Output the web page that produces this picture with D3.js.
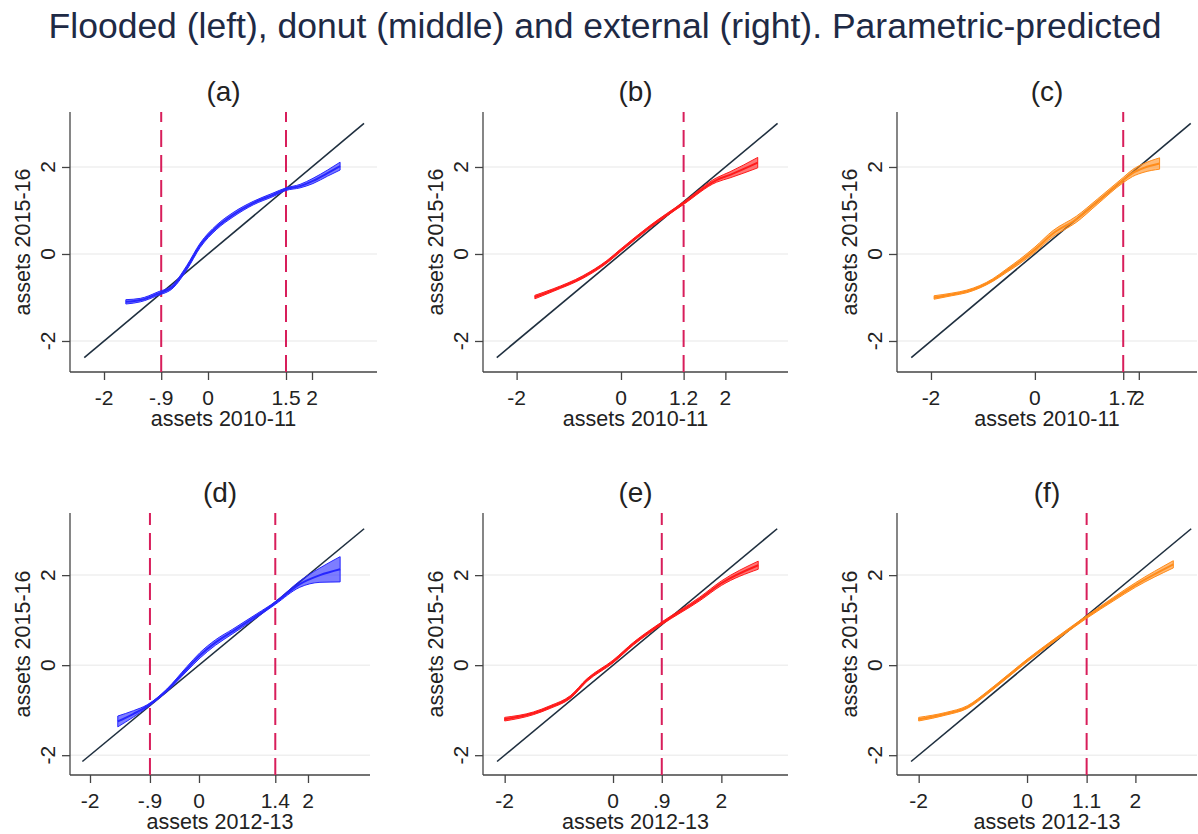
<!DOCTYPE html>
<html>
<head>
<meta charset="utf-8">
<script src="https://cdn.jsdelivr.net/npm/d3@7"></script>
<style>
  body { margin: 0; background: #fff; }
  text { font-family: "Liberation Sans", Arial, sans-serif; }
</style>
</head>
<body>
<div id="chart"></div>
<script>
// panel labels and axis titles
var panelNames = ["(a)", "(b)", "(c)", "(d)", "(e)", "(f)"];
var xTitles = ["assets 2010-11", "assets 2010-11", "assets 2010-11",
               "assets 2012-13", "assets 2012-13", "assets 2012-13"];
var yTitle = "assets 2015-16";
var yTicks = [-2, 0, 2];
var baseXTicks = [-2, 0, 2];

// thresholds (dashed lines), one list per panel
var thresholds = [[-0.9, 1.5], [1.2], [1.7], [-0.9, 1.4], [0.9], [1.1]];

// axis ranges per panel
var xDomains = [[-2.654, 3.25], [-2.644, 3.2], [-2.654, 3.12],
                [-2.367, 3.138], [-2.4, 3.23], [-2.4, 3.137]];
var yDomains = [[-2.713, 3.264], [-2.713, 3.264], [-2.713, 3.264],
                [-2.44, 3.38], [-2.44, 3.38], [-2.44, 3.38]];

// 45 degree line extent
var diagRanges = [[-2.38, 3.0], [-2.38, 3.0], [-2.38, 3.0],
                  [-2.14, 3.03], [-2.14, 3.03], [-2.14, 3.03]];

// predicted curves: [x, y, half band width]
var curveA = [[-1.58,-1.10,0.05],[-1.3,-1.06,0.04],[-0.98,-0.92,0.04],[-0.67,-0.74,0.04],[-0.41,-0.32,0.05],
              [-0.15,0.2,0.05],[0.17,0.62,0.05],[0.48,0.9,0.05],[0.87,1.17,0.04],[1.25,1.36,0.04],
              [1.5,1.49,0.03],[1.77,1.56,0.04],[2.02,1.68,0.06],[2.3,1.86,0.07],[2.54,2.02,0.09]];
var curveB = [[-1.65,-0.99,0.04],[-1.3,-0.83,0.03],[-0.73,-0.53,0.03],[-0.27,-0.18,0.03],[0,0.09,0.03],
              [0.55,0.62,0.03],[1.2,1.17,0.03],[1.83,1.7,0.05],[2.09,1.82,0.07],[2.62,2.1,0.12]];
var curveC = [[-1.94,-1.0,0.04],[-1.6,-0.93,0.03],[-1.31,-0.86,0.03],[-0.81,-0.6,0.03],[-0.54,-0.38,0.04],
              [-0.3,-0.18,0.05],[0,0.1,0.06],[0.35,0.47,0.07],[0.8,0.8,0.07],[1.2,1.2,0.06],
              [1.7,1.7,0.06],[1.88,1.86,0.08],[2.1,1.98,0.1],[2.4,2.08,0.13]];
var curveD = [[-1.49,-1.25,0.12],[-1.2,-1.08,0.07],[-0.95,-0.91,0.03],[-0.59,-0.56,0.03],[-0.22,-0.08,0.05],
              [0.02,0.22,0.06],[0.3,0.5,0.06],[0.62,0.75,0.05],[1.06,1.1,0.04],[1.4,1.38,0.03],
              [1.85,1.8,0.07],[2.22,2.0,0.16],[2.59,2.13,0.28]];
var curveE = [[-2.0,-1.2,0.04],[-1.47,-1.07,0.03],[-1.16,-0.93,0.03],[-0.79,-0.71,0.03],[-0.48,-0.33,0.03],
              [0,0.08,0.03],[0.38,0.48,0.03],[0.9,0.93,0.03],[1.6,1.47,0.04],[2.0,1.82,0.05],[2.68,2.22,0.09]];
var curveF = [[-2.0,-1.2,0.04],[-1.5,-1.08,0.03],[-1.1,-0.93,0.03],[-0.74,-0.62,0.03],[-0.37,-0.26,0.03],
              [0,0.1,0.03],[0.5,0.55,0.03],[1.1,1.07,0.03],[1.6,1.47,0.04],[2.0,1.78,0.05],[2.7,2.24,0.08]];
var curves = [curveA, curveB, curveC, curveD, curveE, curveF];

var colors = ["#2626ff", "#ff1a1a", "#ff8c1a", "#2626ff", "#ff1a1a", "#ff8c1a"];

var width = 1198, height = 834;

// pixel boxes of the plot regions
var colLeft = [70, 483, 897];
var colRight = [[377, 788, 1197], [370, 788, 1197]];
var rowTop = [112, 513], rowBottom = [372, 775];

var svg = d3.select("#chart").append("svg")
    .attr("width", width)
    .attr("height", height);

svg.append("text")
    .attr("x", 605)
    .attr("y", 38)
    .attr("text-anchor", "middle")
    .attr("fill", "#1e2a45")
    .style("font-size", "35.5px")
    .text("Flooded (left), donut (middle) and external (right). Parametric-predicted");

function fmt(v) {
    return String(v).replace(/^(-?)0\./, "$1.");
}

panelNames.forEach(function(name, i) {
    var r = Math.floor(i / 3), c = i % 3;
    var left = colLeft[c], right = colRight[r][c];
    var top = rowTop[r], bottom = rowBottom[r];

    var x = d3.scaleLinear().domain(xDomains[i]).range([left, right]);
    var y = d3.scaleLinear().domain(yDomains[i]).range([bottom, top]);

    var g = svg.append("g");

    // faint grid
    g.selectAll(".grid").data(yTicks).enter().append("line")
        .attr("x1", left).attr("x2", right)
        .attr("y1", y).attr("y2", y)
        .attr("stroke", "#efefef")
        .attr("stroke-width", 1.5);

    // axes
    var xt = baseXTicks.concat(thresholds[i]).sort(d3.ascending);
    var xAxis = g.append("g")
        .attr("transform", "translate(0," + bottom + ")")
        .call(d3.axisBottom(x).tickValues(xt).tickSize(8).tickFormat(""));
    var yAxis = g.append("g")
        .attr("transform", "translate(" + left + ",0)")
        .call(d3.axisLeft(y).tickValues(yTicks).tickSize(8).tickFormat(""));
    [xAxis, yAxis].forEach(function(a) {
        a.select(".domain").attr("stroke", "#444").attr("stroke-width", 1.3).attr("d",
            a === xAxis ? "M" + left + ",0H" + right : "M0," + top + "V" + bottom);
        a.selectAll(".tick line").attr("stroke", "#444").attr("stroke-width", 1.3);
    });

    g.selectAll(".xlab").data(xt).enter().append("text")
        .attr("x", x)
        .attr("y", bottom + 33)
        .attr("text-anchor", "middle")
        .attr("fill", "#222")
        .style("font-size", "21px")
        .text(fmt);

    g.selectAll(".ylab").data(yTicks).enter().append("text")
        .attr("transform", function(d) { return "translate(" + (left - 15) + "," + y(d) + ")rotate(-90)"; })
        .attr("text-anchor", "middle")
        .attr("fill", "#222")
        .style("font-size", "21px")
        .text(fmt);

    g.append("text")
        .attr("x", (left + right) / 2)
        .attr("y", bottom + 54)
        .attr("text-anchor", "middle")
        .attr("fill", "#222")
        .style("font-size", "21.5px")
        .text(xTitles[i]);

    g.append("text")
        .attr("transform", "translate(" + (left - 40) + "," + (top + bottom) / 2 + ")rotate(-90)")
        .attr("text-anchor", "middle")
        .attr("fill", "#222")
        .style("font-size", "21.5px")
        .text(yTitle);

    g.append("text")
        .attr("x", (left + right) / 2)
        .attr("y", top - 11)
        .attr("text-anchor", "middle")
        .attr("fill", "#222")
        .style("font-size", "28px")
        .text(name);

    // threshold lines
    g.selectAll(".thr").data(thresholds[i]).enter().append("line")
        .attr("x1", x).attr("x2", x)
        .attr("y1", bottom).attr("y2", top)
        .attr("stroke", "#d81e5b")
        .attr("stroke-width", 2)
        .attr("stroke-dasharray", "17,8");

    // 45 degree line
    g.append("line")
        .attr("x1", x(diagRanges[i][0])).attr("y1", y(diagRanges[i][0]))
        .attr("x2", x(diagRanges[i][1])).attr("y2", y(diagRanges[i][1]))
        .attr("stroke", "#1f2f3f")
        .attr("stroke-width", 1.6);

    // band and prediction
    var area = d3.area()
        .curve(d3.curveMonotoneX)
        .x(function(d) { return x(d[0]); })
        .y0(function(d) { return y(d[1] - d[2]); })
        .y1(function(d) { return y(d[1] + d[2]); });
    var line = d3.line()
        .curve(d3.curveMonotoneX)
        .x(function(d) { return x(d[0]); })
        .y(function(d) { return y(d[1]); });

    g.append("path")
        .datum(curves[i])
        .attr("d", area)
        .attr("fill", colors[i])
        .attr("fill-opacity", 0.6)
        .attr("stroke", colors[i])
        .attr("stroke-width", 1);
    g.append("path")
        .datum(curves[i])
        .attr("d", line)
        .attr("fill", "none")
        .attr("stroke", colors[i])
        .attr("stroke-width", 2);
});
</script>
</body>
</html>
